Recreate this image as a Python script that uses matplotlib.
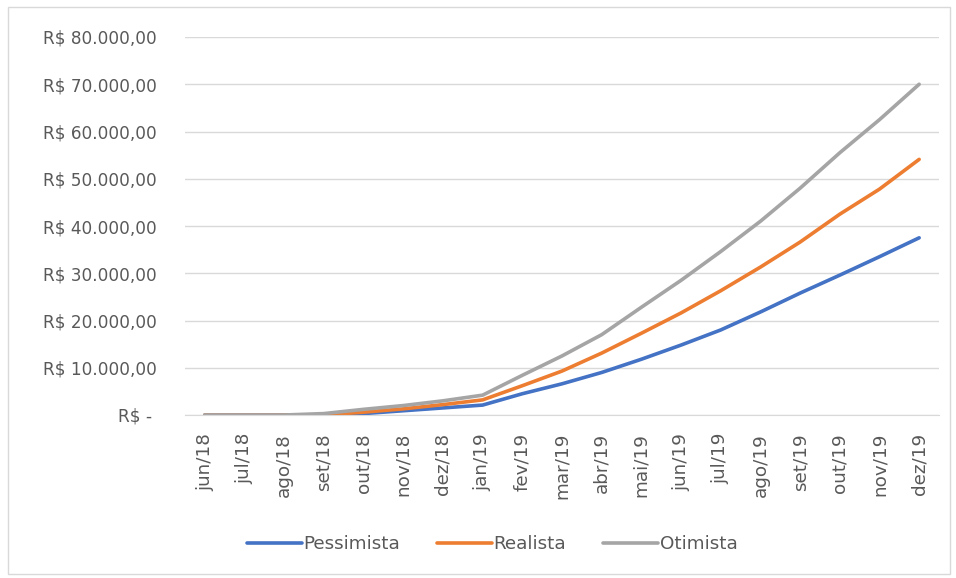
import matplotlib
matplotlib.use("Agg")
import matplotlib.pyplot as plt
from matplotlib.patches import Rectangle
from matplotlib.ticker import FuncFormatter

months = ["jun/18", "jul/18", "ago/18", "set/18", "out/18", "nov/18", "dez/18",
          "jan/19", "fev/19", "mar/19", "abr/19", "mai/19", "jun/19", "jul/19",
          "ago/19", "set/19", "out/19", "nov/19", "dez/19"]

pessimista = [0, 0, 0, 0, 300, 900, 1500, 2100, 4500, 6600, 9000, 11800, 14800,
              18000, 21800, 25800, 29600, 33500, 37500]
realista = [0, 0, 0, 0, 600, 1300, 2200, 3200, 6200, 9300, 13100, 17300, 21600,
            26300, 31300, 36600, 42500, 47800, 54100]
otimista = [0, 0, 0, 300, 1200, 2000, 3000, 4200, 8400, 12500, 17000, 22800, 28500,
            34600, 41000, 48000, 55500, 62500, 70000]

series_names = ["Pessimista", "Realista", "Otimista"]
series_colors = ["#4472C4", "#ED7D31", "#A5A5A5"]
yticks = [0, 10000, 20000, 30000, 40000, 50000, 60000, 70000, 80000]


def brl(v, pos=None):
    # accounting style: zero shows as a dash
    if v == 0:
        return "R$ - "
    s = f"{v:,.2f}".replace(",", "X").replace(".", ",").replace("X", ".")
    return f"R$ {s}"


fig = plt.figure(figsize=(9.56, 5.78), dpi=100)
ax = fig.add_axes([185 / 956, 1 - 415 / 578, (939 - 185) / 956, (415 - 37) / 578])

x = list(range(len(months)))
for vals, name, col in zip([pessimista, realista, otimista], series_names, series_colors):
    ax.plot(x, vals, color=col, lw=2.6, label=name, solid_capstyle="round")

ax.set_xlim(-0.5, len(months) - 0.5)
ax.set_ylim(0, 80000)
ax.set_yticks(yticks)
ax.yaxis.set_major_formatter(FuncFormatter(brl))
ax.set_xticks(x)
ax.set_xticklabels(months, rotation=90)
ax.grid(axis="y", color="#D9D9D9", lw=1)
ax.set_axisbelow(True)
for side in ["top", "right", "left"]:
    ax.spines[side].set_visible(False)
ax.spines["bottom"].set_color("#D9D9D9")
ax.tick_params(axis="y", length=0, colors="#595959", labelsize=12.2, pad=20)
ax.tick_params(axis="x", length=0, colors="#595959", labelsize=13.2, pad=13)

fig.legend(loc="center", bbox_to_anchor=(492 / 956, 1 - 544 / 578), ncol=3,
           frameon=False, fontsize=13.2, labelcolor="#595959", handlelength=3.0,
           handletextpad=0.1, columnspacing=2.0)

fig.patches.append(Rectangle((8 / 956, 4 / 578), 942 / 956, 567 / 578,
                             transform=fig.transFigure, fill=False,
                             edgecolor="#D9D9D9", lw=1))

fig.savefig("out.png", dpi=100)
